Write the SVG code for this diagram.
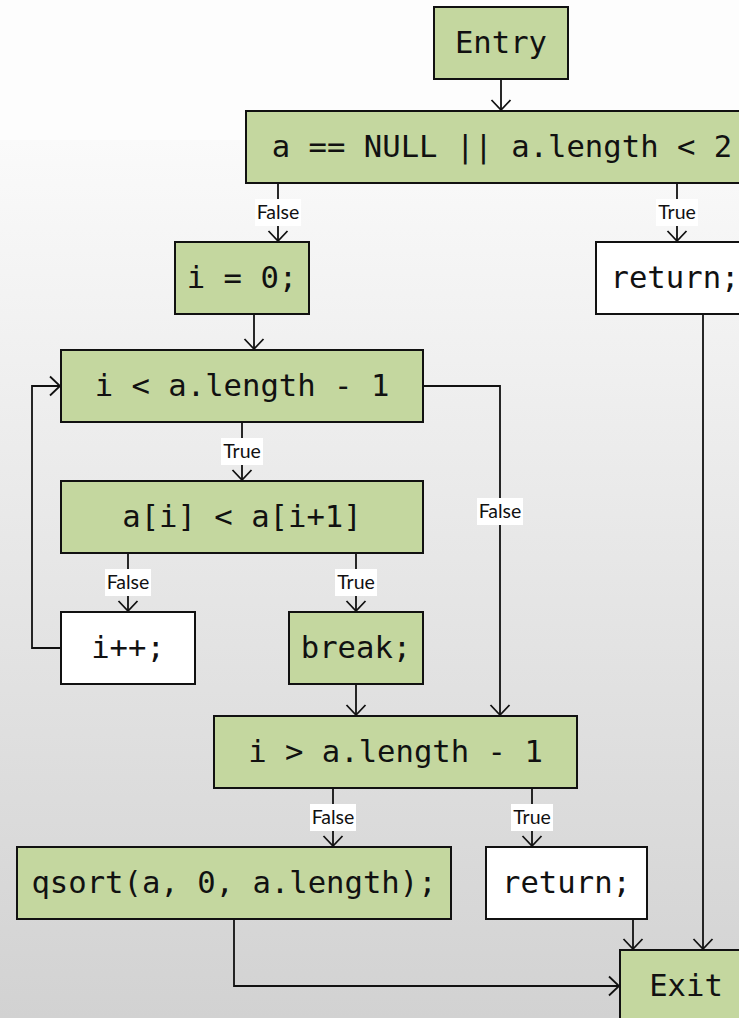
<svg xmlns="http://www.w3.org/2000/svg" width="739" height="1018" viewBox="0 0 739 1018">
<style>
.bg{fill:#fdfdfd}
.n{stroke:#111;stroke-width:2}
.g{fill:#c4d79f}
.w{fill:#ffffff}
.t{font-family:"DejaVu Sans Mono","Liberation Mono",monospace;font-size:30.6px;fill:#111;text-anchor:middle}
.c{fill:none;stroke:#111;stroke-width:1.8}
.lb{fill:#ffffff}
.lt{font-family:Lato,"Open Sans",sans-serif;font-size:19.5px;fill:#111;text-anchor:middle}
</style>
<defs>
<linearGradient id="bgg" x1="0" y1="0" x2="0" y2="1">
<stop offset="0" stop-color="#fafafa"/>
<stop offset="1" stop-color="#d2d2d2"/>
</linearGradient>
<marker id="ah" markerUnits="userSpaceOnUse" markerWidth="24" markerHeight="24" viewBox="-12 -12 24 24" refX="0" refY="0" orient="auto" overflow="visible">
<path d="M-10,-9.5 L0,0 L-10,9.5" fill="none" stroke="#111" stroke-width="1.8"/>
</marker>
</defs>
<rect class="bg" x="0" y="0" width="739" height="140"/>
<rect x="0" y="140" width="739" height="878" fill="url(#bgg)"/>

<g id="connectors">
<path class="c" d="M501,79 V110" marker-end="url(#ah)"/>
<path class="c" d="M278,183 V241" marker-end="url(#ah)"/>
<path class="c" d="M677,183 V241" marker-end="url(#ah)"/>
<path class="c" d="M254,314 V349" marker-end="url(#ah)"/>
<path class="c" d="M242,422 V480" marker-end="url(#ah)"/>
<path class="c" d="M423,386 H500 V715" marker-end="url(#ah)"/>
<path class="c" d="M128,553 V611" marker-end="url(#ah)"/>
<path class="c" d="M356,553 V611" marker-end="url(#ah)"/>
<path class="c" d="M61,648 H32 V386 H60" marker-end="url(#ah)"/>
<path class="c" d="M356,684 V715" marker-end="url(#ah)"/>
<path class="c" d="M333,788 V846" marker-end="url(#ah)"/>
<path class="c" d="M532,788 V846" marker-end="url(#ah)"/>
<path class="c" d="M633,919 V949" marker-end="url(#ah)"/>
<path class="c" d="M703,314 V949" marker-end="url(#ah)"/>
<path class="c" d="M234,919 V986 H619" marker-end="url(#ah)"/>
<g id="labels">
<rect class="lb" x="255" y="199" width="46" height="27"/><text class="lt" x="278" y="219">False</text>
<rect class="lb" x="656" y="199" width="42" height="27"/><text class="lt" x="677" y="219">True</text>
<rect class="lb" x="221" y="438" width="42" height="27"/><text class="lt" x="242" y="458">True</text>
<rect class="lb" x="477" y="498" width="46" height="27"/><text class="lt" x="500" y="518">False</text>
<rect class="lb" x="105" y="569" width="46" height="27"/><text class="lt" x="128" y="589">False</text>
<rect class="lb" x="335" y="569" width="42" height="27"/><text class="lt" x="356" y="589">True</text>
<rect class="lb" x="310" y="804" width="46" height="27"/><text class="lt" x="333" y="824">False</text>
<rect class="lb" x="511" y="804" width="42" height="27"/><text class="lt" x="532" y="824">True</text>
</g>
</g>

<g id="entry"><rect class="n g" x="434" y="7" width="134" height="72"/><text class="t" x="501" y="53">Entry</text></g>
<g id="cond1"><rect class="n g" x="246" y="111" width="514" height="72"/><text class="t" x="502" y="157">a == NULL || a.length &lt; 2</text></g>
<g id="return1"><rect class="n w" x="596" y="242" width="164" height="72"/><text class="t" x="675" y="288">return;</text></g>
<g id="init"><rect class="n g" x="175" y="242" width="134" height="72"/><text class="t" x="242" y="288">i = 0;</text></g>
<g id="loop"><rect class="n g" x="61" y="350" width="362" height="72"/><text class="t" x="242" y="396">i &lt; a.length - 1</text></g>
<g id="cmp"><rect class="n g" x="61" y="481" width="362" height="72"/><text class="t" x="242" y="527">a[i] &lt; a[i+1]</text></g>
<g id="inc"><rect class="n w" x="61" y="612" width="134" height="72"/><text class="t" x="128" y="658">i++;</text></g>
<g id="brk"><rect class="n g" x="289" y="612" width="134" height="72"/><text class="t" x="356" y="658">break;</text></g>
<g id="cond2"><rect class="n g" x="214" y="716" width="363" height="72"/><text class="t" x="395.5" y="762">i &gt; a.length - 1</text></g>
<g id="qsort"><rect class="n g" x="17" y="847" width="434" height="72"/><text class="t" x="234" y="893">qsort(a, 0, a.length);</text></g>
<g id="return2"><rect class="n w" x="486" y="847" width="161" height="72"/><text class="t" x="566.5" y="893">return;</text></g>
<g id="exit"><rect class="n g" x="620" y="950" width="132" height="72"/><text class="t" x="686" y="996">Exit</text></g>
</svg>
